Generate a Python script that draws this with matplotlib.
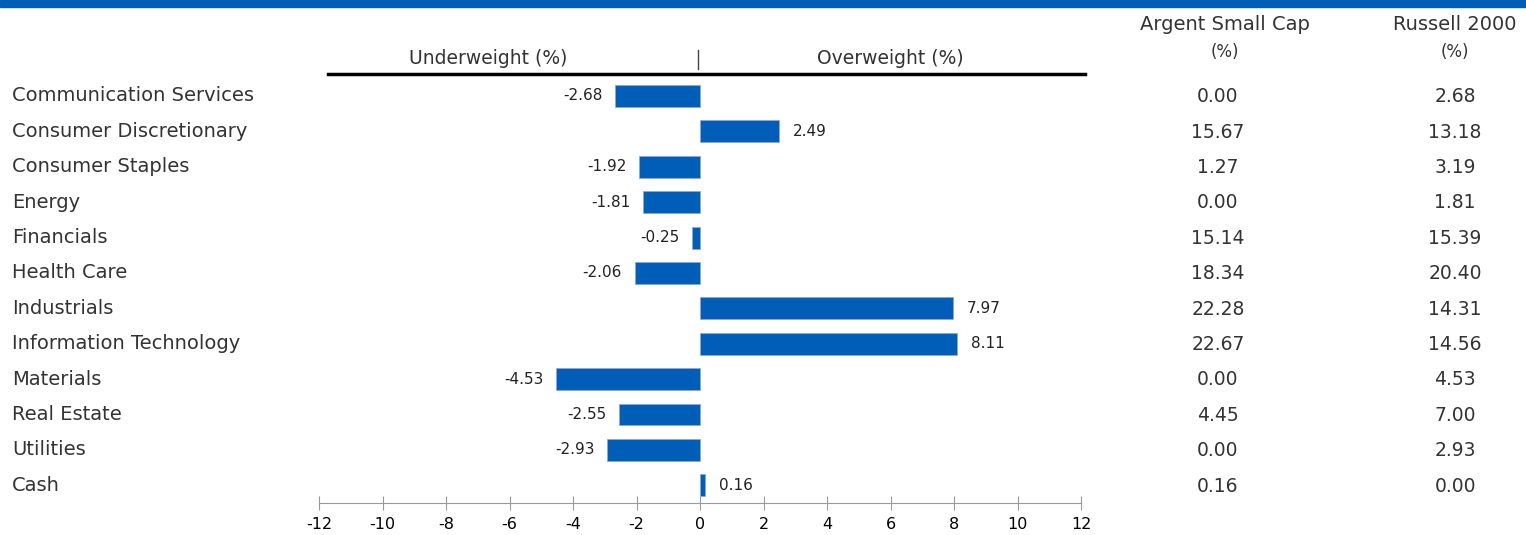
import matplotlib.pyplot as plt
import matplotlib.transforms as mtrans
from matplotlib.lines import Line2D
from matplotlib.patches import Rectangle

sectors = ["Communication Services", "Consumer Discretionary", "Consumer Staples",
           "Energy", "Financials", "Health Care", "Industrials",
           "Information Technology", "Materials", "Real Estate", "Utilities", "Cash"]
diff = [-2.68, 2.49, -1.92, -1.81, -0.25, -2.06, 7.97, 8.11, -4.53, -2.55, -2.93, 0.16]
argent = ["0.00", "15.67", "1.27", "0.00", "15.14", "18.34", "22.28", "22.67",
          "0.00", "4.45", "0.00", "0.16"]
russell = ["2.68", "13.18", "3.19", "1.81", "15.39", "20.40", "14.31", "14.56",
           "4.53", "7.00", "2.93", "0.00"]
xticks = list(range(-12, 13, 2))

blue = "#005EB8"
txt = "#333333"
W, H = 1526, 535

plt.rcParams["font.family"] = "DejaVu Sans"
plt.rcParams["axes.unicode_minus"] = False

fig = plt.figure(figsize=(W / 100, H / 100), dpi=100)
# axes: x from px 319 to 1081, y from px 80 to 503
ax = fig.add_axes([319 / W, 1 - 503 / H, (1081 - 319) / W, (503 - 80) / H])

rows = list(range(len(sectors)))
ax.barh(rows, diff, height=0.62, color=blue, edgecolor="#8fa9d6", linewidth=0.6)
ax.set_xlim(-12, 12)
ax.set_ylim(11.5, -0.452)

for i, v in enumerate(diff):
    if v < 0:
        ax.annotate(f"{v:.2f}", (v, i), xytext=(-9, 0), textcoords="offset points",
                    ha="right", va="center", fontsize=11, color="#222222")
    else:
        ax.annotate(f"{v:.2f}", (v, i), xytext=(10, 0), textcoords="offset points",
                    ha="left", va="center", fontsize=11, color="#222222")

for s in ["top", "left", "right"]:
    ax.spines[s].set_visible(False)
ax.spines["bottom"].set_color("#999999")
ax.set_yticks([])
ax.set_xticks(xticks)
ax.tick_params(axis="x", direction="inout", length=10, color="#999999",
               labelsize=11.5, labelcolor="black", pad=5)

# left labels and right columns, aligned to the bar rows
tr = mtrans.blended_transform_factory(fig.transFigure, ax.transData)
for i in rows:
    ax.text(12 / W, i, sectors[i], transform=tr, ha="left", va="center",
            fontsize=14, color=txt)
    ax.text(1218 / W, i + 0.02, argent[i], transform=tr, ha="center", va="center",
            fontsize=13.5, color=txt)
    ax.text(1455 / W, i + 0.02, russell[i], transform=tr, ha="center", va="center",
            fontsize=13.5, color=txt)

# headers
fig.text(1225 / W, 1 - 24 / H, "Argent Small Cap", ha="center", va="center",
         fontsize=14, color=txt)
fig.text(1225 / W, 1 - 52 / H, "(%)", ha="center", va="center",
         fontsize=12, color=txt)
fig.text(1455 / W, 1 - 24 / H, "Russell 2000", ha="center", va="center",
         fontsize=14, color=txt)
fig.text(1455 / W, 1 - 52 / H, "(%)", ha="center", va="center",
         fontsize=12, color=txt)
fig.text(488 / W, 1 - 59 / H, "Underweight (%)", ha="center", va="center",
         fontsize=13.5, color=txt)
fig.text(890 / W, 1 - 59 / H, "Overweight (%)", ha="center", va="center",
         fontsize=13.5, color=txt)

fig.add_artist(Line2D([328 / W, 1085 / W], [1 - 74 / H, 1 - 74 / H],
                      color="black", linewidth=2.5, transform=fig.transFigure))
fig.add_artist(Line2D([698 / W, 698 / W], [1 - 50 / H, 1 - 69 / H],
                      color="#444444", linewidth=1, transform=fig.transFigure))

# top blue band
fig.add_artist(Rectangle((0, 1 - 7 / H), 1, 7 / H, color=blue,
                         transform=fig.transFigure))

fig.savefig("out.png", dpi=100)
